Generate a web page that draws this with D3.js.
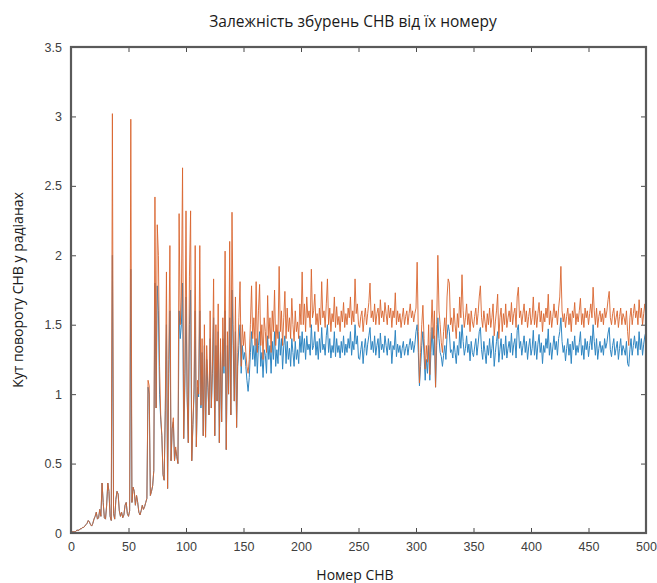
<!DOCTYPE html>
<html>
<head>
<meta charset="utf-8">
<script src="https://cdn.jsdelivr.net/npm/d3@7"></script>
<style>
  html, body { margin: 0; padding: 0; background: #fff; overflow: hidden; }
  svg { display: block; }
  .tick text { font-family: "Liberation Sans", Arial, sans-serif; font-size: 12.5px; fill: #404040; }
  .lbl { font-family: "Open Sans", "Noto Sans", sans-serif; fill: #1a1a1a; }
</style>
</head>
<body>
<div id="dataviz"></div>
<script>
// chart texts
const titleText = "Залежність збурень СНВ від їх номеру";
const xLabel = "Номер СНВ";
const yLabel = "Кут повороту СНВ у радіанах";

const xTicks = [0, 50, 100, 150, 200, 250, 300, 350, 400, 450, 500];
const yTicks = [0, 0.5, 1, 1.5, 2, 2.5, 3, 3.5];

// series 1 (blue), values for SNV number 1..500
const blueSeries = [
  0.01,0.01,0.01,0.01,0.02,0.02,0.02,0.03,0.03,0.04,
  0.04,0.05,0.06,0.07,0.09,0.08,0.06,0.05,0.07,0.1,
  0.12,0.15,0.1,0.11,0.17,0.12,0.36,0.22,0.11,0.1,
  0.2,0.36,0.3,0.12,0.09,2.0,0.14,0.1,0.24,0.3,
  0.28,0.16,0.12,0.15,0.11,0.13,0.2,0.22,0.14,0.12,
  0.16,1.9,0.22,0.33,0.3,0.2,0.27,0.22,0.15,0.13,
  0.16,0.2,0.17,0.19,0.22,0.25,1.05,1.0,0.27,0.3,
  0.34,0.45,1.8,0.9,1.78,1.6,1.0,0.82,0.7,0.42,
  0.38,0.88,1.5,0.32,1.15,1.6,0.52,0.75,0.8,0.52,
  0.6,0.55,0.5,1.6,1.4,1.5,1.8,0.68,1.05,1.7,
  0.98,0.65,1.5,1.75,0.52,0.78,1.0,1.6,0.62,1.05,
  0.98,1.6,0.9,1.3,0.7,1.35,0.69,1.25,1.05,0.85,
  1.4,0.9,1.15,1.55,0.7,1.35,0.95,1.45,0.65,1.3,
  0.8,1.4,1.15,1.6,0.6,1.35,1.0,1.55,0.85,1.75,
  1.35,0.95,1.45,0.76,1.2,1.35,1.5,1.15,1.35,1.25,
  1.3,1.2,1.1,1.02,1.12,1.3,1.45,1.25,1.35,1.2,
  1.4,1.15,1.35,1.45,1.2,1.3,1.12,1.32,1.28,1.15,
  1.42,1.25,1.35,1.15,1.38,1.25,1.45,1.2,1.32,1.22,
  1.45,1.28,1.4,1.18,1.35,1.42,1.22,1.38,1.25,1.33,
  1.2,1.4,1.3,1.2,1.38,1.25,1.32,1.22,1.42,1.3,
  1.45,1.3,1.4,1.25,1.42,1.32,1.36,1.28,1.5,1.32,
  1.35,1.45,1.28,1.38,1.25,1.4,1.3,1.48,1.32,1.36,
  1.28,1.42,1.5,1.3,1.4,1.26,1.35,1.3,1.45,1.27,
  1.4,1.3,1.35,1.26,1.38,1.3,1.42,1.28,1.36,1.3,
  1.4,1.33,1.45,1.28,1.38,1.32,1.5,1.36,1.42,1.26,
  1.25,1.32,1.38,1.22,1.33,1.4,1.28,1.36,1.42,1.48,
  1.32,1.38,1.3,1.42,1.28,1.35,1.4,1.26,1.44,1.32,
  1.36,1.3,1.42,1.35,1.28,1.4,1.32,1.38,1.22,1.35,
  1.32,1.46,1.27,1.36,1.3,1.35,1.26,1.33,1.38,1.28,
  1.33,1.36,1.28,1.35,1.4,1.32,1.38,1.3,1.36,1.45,
  1.5,1.3,1.06,1.2,1.35,1.45,1.28,1.1,1.25,1.15,
  1.35,1.1,1.3,1.48,1.28,1.42,1.05,1.35,1.55,1.4,
  1.3,1.27,1.2,1.28,1.35,1.25,1.42,1.5,1.45,1.3,
  1.32,1.26,1.38,1.3,1.22,1.35,1.28,1.45,1.33,1.5,
  1.38,1.28,1.33,1.42,1.3,1.36,1.24,1.38,1.3,1.27,
  1.34,1.4,1.28,1.36,1.45,1.48,1.32,1.25,1.38,1.3,
  1.22,1.35,1.28,1.4,1.26,1.33,1.42,1.2,1.3,1.38,
  1.45,1.23,1.32,1.4,1.25,1.36,1.28,1.42,1.26,1.33,
  1.38,1.3,1.44,1.28,1.36,1.4,1.26,1.46,1.5,1.33,
  1.38,1.28,1.35,1.42,1.3,1.38,1.25,1.34,1.4,1.28,
  1.33,1.46,1.28,1.38,1.25,1.36,1.43,1.3,1.37,1.22,
  1.35,1.3,1.4,1.33,1.47,1.28,1.37,1.25,1.34,1.42,
  1.32,1.38,1.28,1.4,1.45,1.55,1.38,1.3,1.35,1.24,
  1.33,1.4,1.28,1.36,1.22,1.38,1.32,1.42,1.28,1.35,
  1.3,1.37,1.45,1.28,1.35,1.25,1.4,1.32,1.38,1.27,
  1.35,1.42,1.32,1.5,1.38,1.28,1.4,1.25,1.33,1.38,
  1.3,1.35,1.28,1.4,1.33,1.37,1.44,1.48,1.32,1.27,
  1.35,1.4,1.28,1.33,1.38,1.25,1.33,1.4,1.28,1.35,
  1.32,1.28,1.38,1.22,1.2,1.32,1.4,1.28,1.35,1.42,
  1.33,1.38,1.28,1.45,1.32,1.4,1.28,1.36,1.42,1.45
];

// series 2 (orange), values for SNV number 1..500
const orangeSeries = [
  0.01,0.01,0.01,0.01,0.02,0.02,0.02,0.03,0.03,0.04,
  0.04,0.05,0.06,0.07,0.09,0.08,0.06,0.05,0.07,0.1,
  0.12,0.15,0.1,0.11,0.17,0.12,0.36,0.22,0.11,0.1,
  0.2,0.36,0.3,0.12,0.09,3.02,0.14,0.1,0.24,0.3,
  0.28,0.16,0.12,0.15,0.11,0.13,0.2,0.22,0.14,0.12,
  0.16,2.98,0.22,0.33,0.3,0.2,0.27,0.22,0.15,0.13,
  0.16,0.2,0.17,0.19,0.22,0.25,1.1,1.06,0.27,0.3,
  0.34,0.45,2.42,0.9,2.22,2.0,1.2,0.85,0.7,0.42,
  0.38,0.9,1.88,0.32,1.25,2.07,0.52,0.75,0.83,0.52,
  0.62,0.55,0.5,2.3,1.5,1.7,2.63,0.68,1.15,2.32,
  1.0,0.65,1.85,2.32,0.52,0.78,1.05,2.07,0.62,1.1,
  1.0,2.07,0.92,1.4,0.7,1.5,0.69,1.35,1.1,0.85,
  1.6,0.9,1.2,1.83,0.7,1.5,0.95,1.65,0.65,1.4,
  0.8,1.55,1.2,2.03,0.6,1.45,1.0,2.1,0.85,2.31,
  1.5,0.95,1.7,0.76,1.3,1.55,1.81,1.2,1.5,1.35,
  1.45,1.3,1.2,1.15,1.25,1.5,1.78,1.4,1.55,1.35,
  1.81,1.3,1.6,1.79,1.35,1.5,1.25,1.55,1.45,1.3,
  1.71,1.4,1.55,1.3,1.6,1.45,1.75,1.35,1.5,1.4,
  1.92,1.45,1.6,1.35,1.55,1.74,1.4,1.62,1.45,1.55,
  1.4,1.69,1.5,1.38,1.6,1.45,1.52,1.4,1.65,1.5,
  1.88,1.5,1.65,1.45,1.7,1.55,1.6,1.48,1.9,1.55,
  1.6,1.72,1.5,1.58,1.45,1.62,1.5,1.81,1.55,1.6,
  1.48,1.65,1.83,1.5,1.62,1.45,1.58,1.52,1.7,1.48,
  1.63,1.5,1.56,1.45,1.6,1.52,1.66,1.48,1.58,1.5,
  1.62,1.55,1.7,1.5,1.6,1.52,1.83,1.58,1.65,1.5,
  1.48,1.56,1.6,1.45,1.55,1.62,1.5,1.58,1.66,1.8,
  1.55,1.6,1.52,1.65,1.5,1.58,1.62,1.5,1.68,1.55,
  1.6,1.52,1.66,1.58,1.5,1.64,1.55,1.62,1.48,1.6,
  1.55,1.73,1.5,1.6,1.52,1.58,1.48,1.55,1.62,1.5,
  1.56,1.6,1.5,1.58,1.65,1.55,1.6,1.52,1.58,1.62,
  1.95,1.45,1.08,1.3,1.5,1.64,1.4,1.18,1.35,1.23,
  1.5,1.14,1.45,1.68,1.4,1.6,1.05,1.5,2.0,1.6,
  1.5,1.37,1.3,1.45,1.55,1.4,1.7,1.83,1.8,1.5,
  1.55,1.45,1.62,1.5,1.4,1.58,1.48,1.7,1.55,1.86,
  1.6,1.48,1.55,1.65,1.5,1.58,1.45,1.6,1.52,1.48,
  1.56,1.62,1.5,1.58,1.7,1.78,1.55,1.48,1.6,1.52,
  1.45,1.58,1.5,1.62,1.48,1.55,1.65,1.42,1.52,1.6,
  1.72,1.4,1.55,1.62,1.45,1.58,1.5,1.65,1.48,1.55,
  1.6,1.52,1.66,1.5,1.58,1.62,1.48,1.7,1.77,1.55,
  1.6,1.5,1.58,1.65,1.52,1.6,1.48,1.56,1.62,1.5,
  1.55,1.7,1.5,1.6,1.48,1.58,1.66,1.52,1.6,1.45,
  1.58,1.52,1.62,1.55,1.72,1.5,1.6,1.48,1.56,1.65,
  1.55,1.6,1.5,1.62,1.7,1.92,1.6,1.52,1.58,1.48,
  1.56,1.62,1.5,1.58,1.45,1.6,1.55,1.66,1.5,1.58,
  1.52,1.6,1.69,1.5,1.58,1.48,1.62,1.55,1.6,1.5,
  1.58,1.65,1.55,1.77,1.6,1.5,1.62,1.48,1.56,1.6,
  1.52,1.58,1.5,1.62,1.55,1.6,1.68,1.74,1.55,1.5,
  1.58,1.62,1.5,1.55,1.6,1.48,1.56,1.62,1.5,1.58,
  1.55,1.5,1.6,1.45,1.35,1.55,1.62,1.5,1.58,1.65,
  1.55,1.6,1.5,1.68,1.55,1.62,1.5,1.58,1.65,1.55
];

// set the dimensions and margins of the graph
let margin = { top: 47, right: 11, bottom: 50, left: 71 },
    width = 657 - margin.left - margin.right,
    height = 583 - margin.top - margin.bottom;

let root = d3.select("#dataviz")
    .append("svg")
    .attr("width", 657)
    .attr("height", 583);

let svg = root.append("g")
    .attr("transform", "translate(" + margin.left + "," + margin.top + ")");

const x = d3.scaleLinear().domain([0, 500]).range([0, width]);
const y = d3.scaleLinear().domain([0, 3.5]).range([height, 0]);

// lines (blue first, orange on top like matlab)
const line = d3.line()
    .x(function(d, i) { return x(i + 1); })
    .y(function(d) { return y(d); });

svg.append("path")
    .datum(blueSeries)
    .attr("fill", "none")
    .attr("stroke", "#2f86c2")
    .attr("stroke-width", 1)
    .attr("d", line);

svg.append("path")
    .datum(orangeSeries)
    .attr("fill", "none")
    .attr("stroke", "#d9652f")
    .attr("stroke-width", 1)
    .attr("stroke-opacity", 0.9)
    .attr("d", line);

// axes, ticks pointing inward on all four sides
const noLabel = function() { return ""; };

svg.append("g")
    .attr("transform", "translate(0," + height + ")")
    .call(d3.axisBottom(x).tickValues(xTicks).tickSizeInner(-5).tickSizeOuter(0).tickPadding(9));

svg.append("g")
    .call(d3.axisTop(x).tickValues(xTicks).tickSizeInner(-5).tickSizeOuter(0).tickFormat(noLabel));

svg.append("g")
    .call(d3.axisLeft(y).tickValues(yTicks).tickSizeInner(-5).tickSizeOuter(0).tickPadding(9)
        .tickFormat(d3.format("")));

svg.append("g")
    .attr("transform", "translate(" + width + ",0)")
    .call(d3.axisRight(y).tickValues(yTicks).tickSizeInner(-5).tickSizeOuter(0).tickFormat(noLabel));

svg.selectAll(".domain").remove();
svg.selectAll(".tick line").attr("stroke", "#4a4a4a");

// plot box, drawn last so nothing covers it
svg.append("rect")
    .attr("x", 0)
    .attr("y", 0)
    .attr("width", width)
    .attr("height", height)
    .attr("fill", "none")
    .attr("stroke", "#5a5a5a")
    .attr("stroke-width", 2.2);

// title and labels
root.append("text")
    .attr("class", "lbl")
    .attr("x", 353)
    .attr("y", 27)
    .attr("text-anchor", "middle")
    .style("font-size", "15.5px")
    .text(titleText);

root.append("text")
    .attr("class", "lbl")
    .attr("x", 355)
    .attr("y", 580)
    .attr("text-anchor", "middle")
    .style("font-size", "14px")
    .text(xLabel);

root.append("text")
    .attr("class", "lbl")
    .attr("transform", "translate(23,290) rotate(-90)")
    .attr("text-anchor", "middle")
    .style("font-size", "14px")
    .text(yLabel);
</script>
</body>
</html>
